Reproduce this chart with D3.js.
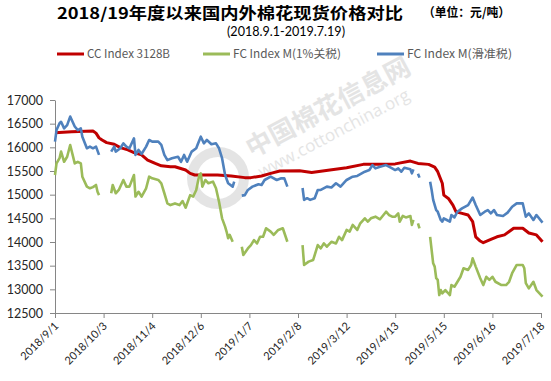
<!DOCTYPE html>
<html><head><meta charset="utf-8">
<script src="https://cdn.jsdelivr.net/npm/d3@7/dist/d3.min.js"></script>
<style>body{margin:0;background:#fff}svg{display:block}</style>
</head><body><svg id="c" width="551" height="381"></svg>
<script>
const seriesNames = ["CC Index 3128B", "FC Index M(1%关税)", "FC Index M(滑准税)"];
const seriesColors = ["#C00000", "#9BBB59", "#4F81BD"];
const xTickLabels = ["2018/9/1","2018/10/3","2018/11/4","2018/12/6","2019/1/7","2019/2/8","2019/3/12","2019/4/13","2019/5/15","2019/6/16","2019/7/18"];
const yTicks = [12500,13000,13500,14000,14500,15000,15500,16000,16500,17000];

const ccIndex = [["2018/9/1",16310],["2018/9/12",16330],["2018/9/26",16345],["2018/9/28",16300],["2018/9/30",16200],["2018/10/2",16155],["2018/10/5",16100],["2018/10/10",16065],["2018/10/14",15995],["2018/10/19",15945],["2018/10/23",15890],["2018/10/28",15840],["2018/11/1",15730],["2018/11/6",15660],["2018/11/10",15610],["2018/11/16",15590],["2018/11/19",15590],["2018/11/26",15520],["2018/11/29",15450],["2018/12/2",15415],["2018/12/9",15415],["2018/12/17",15415],["2018/12/26",15395],["2019/1/4",15360],["2019/1/8",15360],["2019/1/15",15395],["2019/1/21",15450],["2019/1/27",15500],["2019/2/9",15505],["2019/2/17",15470],["2019/3/1",15520],["2019/3/12",15570],["2019/3/23",15640],["2019/4/3",15640],["2019/4/13",15650],["2019/4/23",15710],["2019/4/28",15660],["2019/5/5",15640],["2019/5/9",15580],["2019/5/11",15485],["2019/5/14",15240],["2019/5/15",14990],["2019/5/18",14920],["2019/5/21",14780],["2019/5/23",14640],["2019/5/27",14605],["2019/5/31",14570],["2019/6/3",14430],["2019/6/5",14110],["2019/6/8",14020],["2019/6/10",13985],["2019/6/15",14055],["2019/6/19",14110],["2019/6/24",14150],["2019/6/30",14290],["2019/7/6",14290],["2019/7/10",14190],["2019/7/15",14150],["2019/7/19",14005]];

const fcTariff1 = [["2018/9/1",15415],["2018/9/2",15660],["2018/9/4",15770],["2018/9/5",15910],["2018/9/7",15695],["2018/9/9",15800],["2018/9/11",16050],["2018/9/14",15660],["2018/9/16",15695],["2018/9/18",15660],["2018/9/19",15380],["2018/9/22",15170],["2018/9/24",15135],["2018/9/26",15160],["2018/9/28",15205],["2018/9/29",15060],["2018/9/30",14990],["2018/10/4",null],["2018/10/8",15030],["2018/10/9",15205],["2018/10/11",15030],["2018/10/13",15100],["2018/10/16",15310],["2018/10/18",15170],["2018/10/20",15170],["2018/10/23",15415],["2018/10/24",14960],["2018/10/26",15060],["2018/10/28",14960],["2018/10/31",15135],["2018/11/2",15380],["2018/11/4",15345],["2018/11/8",15310],["2018/11/10",15240],["2018/11/12",15030],["2018/11/14",14815],["2018/11/16",14780],["2018/11/19",14815],["2018/11/22",14780],["2018/11/24",14865],["2018/11/26",14725],["2018/11/29",14990],["2018/12/1",14960],["2018/12/3",15100],["2018/12/5",15415],["2018/12/6",15450],["2018/12/7",15170],["2018/12/9",15310],["2018/12/11",15240],["2018/12/14",15275],["2018/12/16",15135],["2018/12/18",14850],["2018/12/20",14500],["2018/12/22",14325],["2018/12/23",14215],["2018/12/24",14080],["2018/12/25",14150],["2018/12/27",14005],["2018/12/30",null],["2019/1/2",13900],["2019/1/3",13725],["2019/1/6",13865],["2019/1/8",13935],["2019/1/10",14040],["2019/1/12",13970],["2019/1/14",14110],["2019/1/16",14110],["2019/1/18",14290],["2019/1/21",14220],["2019/1/23",14150],["2019/1/26",14255],["2019/1/29",14290],["2019/2/1",14005],["2019/2/5",null],["2019/2/11",13935],["2019/2/12",13515],["2019/2/15",13585],["2019/2/18",13620],["2019/2/21",13935],["2019/2/23",13865],["2019/2/25",13970],["2019/2/27",13900],["2019/3/2",14005],["2019/3/5",13970],["2019/3/7",14110],["2019/3/9",14040],["2019/3/12",14255],["2019/3/14",14220],["2019/3/16",14360],["2019/3/19",14255],["2019/3/21",14395],["2019/3/24",14500],["2019/3/26",14430],["2019/3/28",14500],["2019/3/31",14535],["2019/4/3",14480],["2019/4/7",14640],["2019/4/9",14570],["2019/4/11",14535],["2019/4/13",14535],["2019/4/15",14605],["2019/4/16",14430],["2019/4/18",14550],["2019/4/20",14520],["2019/4/23",14550],["2019/4/24",14360],["2019/4/25",14465],["2019/4/26",null],["2019/4/28",14395],["2019/4/29",14290],["2019/5/2",null],["2019/5/6",14110],["2019/5/7",13830],["2019/5/8",13550],["2019/5/9",13480],["2019/5/10",13235],["2019/5/11",13200],["2019/5/12",12880],["2019/5/13",12985],["2019/5/14",12915],["2019/5/16",12985],["2019/5/18",12915],["2019/5/19",12880],["2019/5/20",13090],["2019/5/22",13055],["2019/5/24",13160],["2019/5/26",13265],["2019/5/28",13445],["2019/5/31",13410],["2019/6/2",13515],["2019/6/3",13655],["2019/6/5",13480],["2019/6/8",13235],["2019/6/10",13090],["2019/6/12",13265],["2019/6/14",13200],["2019/6/16",13265],["2019/6/18",13160],["2019/6/22",13090],["2019/6/25",13090],["2019/6/27",13160],["2019/6/29",13340],["2019/7/2",13515],["2019/7/6",13515],["2019/7/7",13445],["2019/7/8",13130],["2019/7/10",13020],["2019/7/13",13160],["2019/7/15",12985],["2019/7/19",12845]];

const fcSliding = [["2018/9/1",16120],["2018/9/2",16365],["2018/9/4",16510],["2018/9/5",16540],["2018/9/7",16400],["2018/9/9",16470],["2018/9/11",16650],["2018/9/14",16440],["2018/9/16",16365],["2018/9/18",16400],["2018/9/19",16225],["2018/9/22",15980],["2018/9/24",16015],["2018/9/26",15980],["2018/9/28",16015],["2018/9/30",15840],["2018/10/4",null],["2018/10/8",15910],["2018/10/10",16015],["2018/10/11",15910],["2018/10/14",15980],["2018/10/16",16085],["2018/10/18",16015],["2018/10/20",15980],["2018/10/23",16190],["2018/10/24",15840],["2018/10/26",15945],["2018/10/28",15860],["2018/10/31",16015],["2018/11/2",16155],["2018/11/4",16120],["2018/11/8",16120],["2018/11/10",16050],["2018/11/12",15840],["2018/11/14",15730],["2018/11/17",15770],["2018/11/21",15800],["2018/11/23",15695],["2018/11/25",15840],["2018/11/27",15695],["2018/11/30",15910],["2018/12/3",15980],["2018/12/4",16065],["2018/12/6",16225],["2018/12/8",16085],["2018/12/10",16155],["2018/12/13",16065],["2018/12/16",16085],["2018/12/18",15980],["2018/12/20",15770],["2018/12/22",15415],["2018/12/24",15240],["2018/12/27",15170],["2018/12/28",15275],["2018/12/30",null],["2019/1/2",14980],["2019/1/4",14990],["2019/1/6",15100],["2019/1/9",15170],["2019/1/13",15220],["2019/1/15",15205],["2019/1/17",15310],["2019/1/21",15380],["2019/1/25",15310],["2019/1/28",15345],["2019/1/30",15345],["2019/2/1",15170],["2019/2/5",null],["2019/2/11",15140],["2019/2/12",14890],["2019/2/14",14925],["2019/2/16",14890],["2019/2/19",14925],["2019/2/21",15100],["2019/2/23",15100],["2019/2/27",15170],["2019/3/2",15150],["2019/3/5",15240],["2019/3/8",15170],["2019/3/12",15310],["2019/3/16",15380],["2019/3/19",15395],["2019/3/24",15485],["2019/3/27",15520],["2019/3/29",15625],["2019/3/31",15555],["2019/4/3",15590],["2019/4/7",15625],["2019/4/11",15555],["2019/4/13",15520],["2019/4/15",15555],["2019/4/17",15485],["2019/4/19",15570],["2019/4/23",15535],["2019/4/24",15450],["2019/4/25",15535],["2019/4/26",null],["2019/4/28",15440],["2019/4/29",15360],["2019/5/2",null],["2019/5/6",15275],["2019/5/7",15100],["2019/5/8",14890],["2019/5/10",14675],["2019/5/11",14640],["2019/5/13",14465],["2019/5/14",14430],["2019/5/15",14500],["2019/5/17",14465],["2019/5/19",14430],["2019/5/20",14570],["2019/5/22",14520],["2019/5/24",14640],["2019/5/27",14710],["2019/5/31",14780],["2019/6/3",14940],["2019/6/5",14780],["2019/6/8",14570],["2019/6/11",14640],["2019/6/13",14675],["2019/6/15",14605],["2019/6/17",14675],["2019/6/19",14570],["2019/6/23",14550],["2019/6/26",14620],["2019/6/29",14745],["2019/7/2",14815],["2019/7/6",14815],["2019/7/8",14535],["2019/7/10",14605],["2019/7/13",14465],["2019/7/15",14570],["2019/7/19",14410]];

const parse = d3.timeParse("%Y/%m/%d");
const svg = d3.select("#c");
const CJK = "'Noto Sans CJK SC','Noto Sans',sans-serif";

const x = d3.scaleTime().domain([parse("2018/9/1"), parse("2019/7/18")]).range([55, 541]);
const y = d3.scaleLinear().domain([12500, 17000]).range([313, 100]);

// watermark
const wm = svg.append("g").attr("fill", "#dcdcdc").attr("opacity", 0.75);
wm.append("text").attr("transform", "translate(252,158) rotate(-28)")
  .attr("font-family", CJK).attr("font-weight", "bold").attr("font-size", 26).text("中国棉花信息网");
wm.append("text").attr("transform", "translate(262,178) rotate(-28)")
  .attr("font-family", "'Open Sans',sans-serif").attr("font-size", 17).text("www.cottonchina.org");
wm.append("circle").attr("cx", 218).attr("cy", 178).attr("r", 26).attr("fill", "none").attr("stroke", "#dcdcdc").attr("stroke-width", 10);

// title
svg.append("text").attr("x", 57).attr("y", 18.5).attr("font-family", CJK).attr("font-weight", "bold")
  .attr("font-size", 15.5).attr("fill", "#000").attr("textLength", 346).attr("lengthAdjust", "spacingAndGlyphs")
  .text("2018/19年度以来国内外棉花现货价格对比");
svg.append("text").attr("x", 423).attr("y", 17).attr("font-family", CJK).attr("font-weight", "bold")
  .attr("font-size", 12.5).attr("fill", "#000").attr("textLength", 87).attr("lengthAdjust", "spacingAndGlyphs")
  .text("（单位：元/吨）");
svg.append("text").attr("x", 227).attr("y", 35.5).attr("font-family", "Lato,'Noto Sans',sans-serif")
  .attr("font-size", 12.5).attr("fill", "#000").attr("textLength", 118).attr("lengthAdjust", "spacingAndGlyphs")
  .text("(2018.9.1-2019.7.19)");

// legend
const legX = [57, 203, 377];
const legW = [83, 108, 105];
seriesNames.forEach((n, i) => {
  svg.append("line").attr("x1", legX[i]).attr("x2", legX[i] + 27).attr("y1", 54).attr("y2", 54)
    .attr("stroke", seriesColors[i]).attr("stroke-width", 3);
  svg.append("text").attr("x", legX[i] + 30).attr("y", 58).attr("font-family", CJK)
    .attr("font-size", 11.5).attr("fill", "#595959").attr("textLength", legW[i]).attr("lengthAdjust", "spacingAndGlyphs").text(n);
});

// axes
const yAxis = svg.append("g").attr("transform", "translate(55,0)")
  .call(d3.axisLeft(y).tickValues(yTicks).tickSize(5).tickSizeOuter(0).tickPadding(7).tickFormat(d3.format("d")));
const xAxis = svg.append("g").attr("transform", "translate(0,313)")
  .call(d3.axisBottom(x).tickValues(xTickLabels.map(parse)).tickSize(5).tickSizeOuter(0)
    .tickFormat((d, i) => xTickLabels[i]));
[yAxis, xAxis].forEach(a => {
  a.select(".domain").attr("stroke", "#868686");
  a.selectAll(".tick line").attr("stroke", "#868686");
  a.selectAll("text").attr("font-family", "Lato,'Noto Sans',sans-serif").attr("font-size", 12.5).attr("fill", "#262626");
});
xAxis.selectAll("text").attr("text-anchor", "end").attr("font-size", 11)
  .attr("transform", "translate(1,11) rotate(-45)").attr("dy", "0.35em").attr("y", 0).attr("dx", 0);

// series
const line = d3.line().defined(d => d[1] != null).x(d => x(parse(d[0]))).y(d => y(d[1]));
[[ccIndex, 3], [fcTariff1, 2.6], [fcSliding, 2.6]].forEach(([data, w], i) => {
  svg.append("path").datum(data).attr("d", line).attr("fill", "none")
    .attr("stroke", seriesColors[i]).attr("stroke-width", w).attr("stroke-linejoin", "round");
});
</script></body></html>
